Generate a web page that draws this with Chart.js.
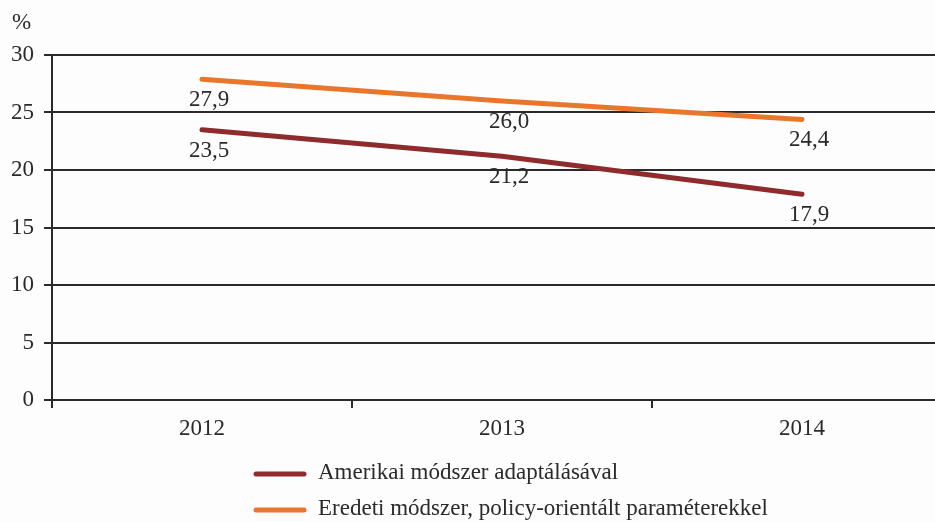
<!DOCTYPE html>
<html>
<head>
<meta charset="utf-8">
<script src="https://cdn.jsdelivr.net/npm/chart.js@4"></script>
<style>
  html, body { margin: 0; padding: 0; background: #fdfdfd; overflow: hidden; }
  #wrap { width: 960px; height: 522px; }
</style>
</head>
<body>
<div id="wrap"><canvas id="c" width="960" height="522"></canvas></div>
<script>
// ── data ─────────────────────────────────────────────
const years = ['2012', '2013', '2014'];
const amerikai = [23.5, 21.2, 17.9];
const eredeti = [27.9, 26.0, 24.4];
const seriesNames = ['Amerikai módszer adaptálásával', 'Eredeti módszer, policy-orientált paraméterekkel'];
const yTicks = [0, 5, 10, 15, 20, 25, 30];

const FONT = '"Liberation Serif", "DejaVu Serif", serif';
const INK = '#2a2a2a';

// labels below each point, "27,9" style
const valueLabels = {
    id: 'valueLabels',
    afterDatasetsDraw(chart) {
        const ctx = chart.ctx;
        ctx.save();
        ctx.font = '23px ' + FONT;
        ctx.fillStyle = INK;
        ctx.textAlign = 'center';
        ctx.textBaseline = 'middle';
        chart.data.datasets.forEach((ds, i) => {
            chart.getDatasetMeta(i).data.forEach((pt, j) => {
                ctx.fillText(ds.data[j].toFixed(1).replace('.', ','), pt.x + 7, pt.y + 21);
            });
        });
        ctx.restore();
    }
};

// "%" unit + stacked legend at the bottom
const extras = {
    id: 'extras',
    afterDraw(chart) {
        const ctx = chart.ctx;
        ctx.save();
        ctx.font = '23px ' + FONT;
        ctx.fillStyle = INK;
        ctx.textBaseline = 'middle';
        ctx.fillText('%', 12, 23);
        chart.data.datasets.forEach((ds, i) => {
            const y = 474 + i * 36;
            ctx.strokeStyle = ds.borderColor;
            ctx.lineWidth = 5;
            ctx.lineCap = 'round';
            ctx.beginPath();
            ctx.moveTo(256, y);
            ctx.lineTo(304, y);
            ctx.stroke();
            ctx.fillText(ds.label, 318, y - 1);
        });
        ctx.restore();
    }
};

new Chart(document.getElementById('c'), {
    type: 'line',
    data: {
        labels: years,
        datasets: [
            { label: seriesNames[0], data: amerikai, borderColor: '#8e2b2c', borderWidth: 5, pointRadius: 0, borderCapStyle: 'round' },
            { label: seriesNames[1], data: eredeti, borderColor: '#e8772c', borderWidth: 5, pointRadius: 0, borderCapStyle: 'round' }
        ]
    },
    options: {
        responsive: false,
        animation: false,
        layout: { padding: { top: 55, right: 8, left: 0, bottom: 0 } },
        plugins: { legend: { display: false }, tooltip: { enabled: false } },
        scales: {
            x: {
                offset: true,
                grid: { offset: true, drawOnChartArea: false, drawTicks: true, tickLength: 8, color: INK, lineWidth: 2 },
                border: { display: true, color: INK, width: 2 },
                ticks: { color: INK, font: { family: FONT, size: 23 }, padding: 7 },
                afterFit(scale) { scale.height = 122; }
            },
            y: {
                min: 0,
                max: 30,
                afterBuildTicks(scale) { scale.ticks = yTicks.map(v => ({ value: v })); },
                grid: { color: INK, lineWidth: 2, drawTicks: true, tickLength: 8 },
                border: { display: true, color: INK, width: 2 },
                ticks: { color: INK, font: { family: FONT, size: 23 }, padding: 10 },
                afterFit(scale) { scale.width = 52; }
            }
        }
    },
    plugins: [valueLabels, extras]
});
</script>
</body>
</html>
